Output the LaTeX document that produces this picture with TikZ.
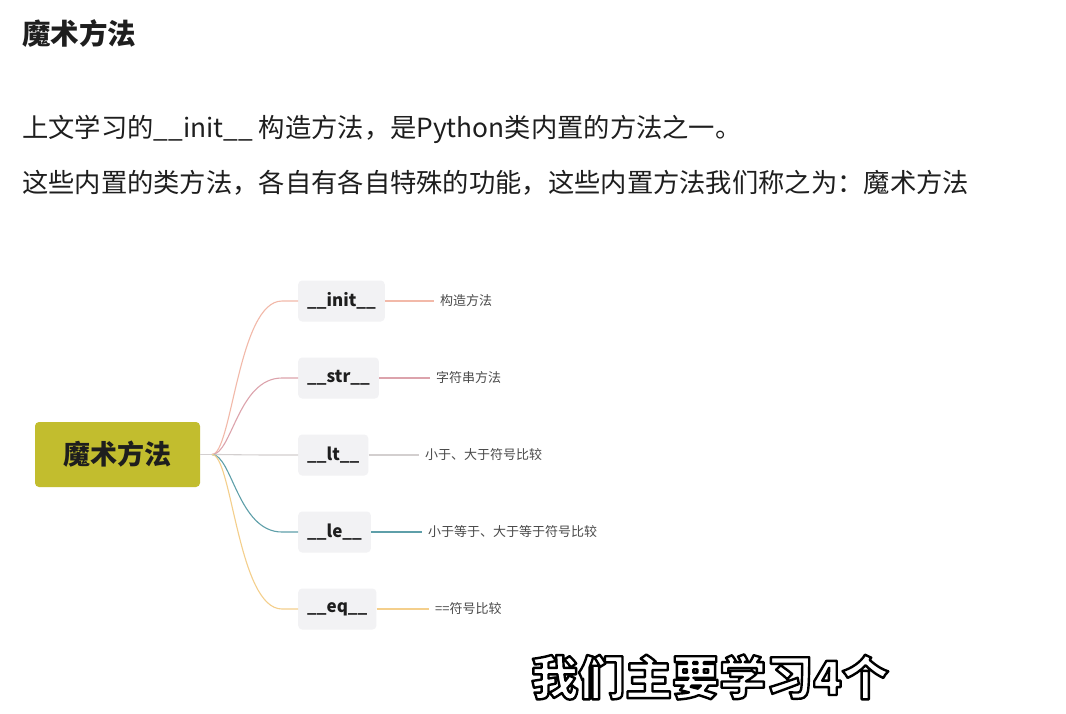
\documentclass[tikz,border=0pt]{standalone}
\usepackage{fontspec}
\setmainfont{Noto Sans CJK SC}
\usepackage{tikz}
\usetikzlibrary{positioning}
\definecolor{ink}{HTML}{1E1E1E}
\definecolor{muted}{HTML}{4A4A4A}
\definecolor{rootfill}{HTML}{C2BD2E}
\definecolor{boxfill}{HTML}{F2F2F4}
\definecolor{cinit}{HTML}{F2B9A9}
\definecolor{cstr}{HTML}{DCA3AC}
\definecolor{clt}{HTML}{D3CFCF}
\definecolor{cle}{HTML}{5E9FA9}
\definecolor{ceq}{HTML}{F4CF8C}
% white letters with a black rim (text render mode 2: fill, then stroke)
\newcommand{\rimtext}[1]{\special{pdf:literal direct 1 j 2.4 w 0 0 0 RG 2 Tr}#1\special{pdf:literal direct 0 Tr}}
\tikzset{
  ttl/.style  ={font=\fontsize{28.5}{32}\selectfont\bfseries, text=ink, inner sep=0pt, anchor=west},
  txt/.style  ={font=\fontsize{26.3}{30}\selectfont, text=ink, inner sep=0pt, anchor=west},
  root/.style ={fill=rootfill, rounded corners=4pt, minimum width=165pt, minimum height=65pt,
                font=\fontsize{27}{30}\selectfont\bfseries, text=ink, inner sep=0pt},
  meth/.style ={fill=boxfill, rounded corners=4pt, minimum height=41pt, inner xsep=9pt,
                font=\fontsize{17}{20}\selectfont\bfseries, text=ink, anchor=west},
  note/.style ={font=\fontsize{13}{16}\selectfont, text=muted, inner xsep=6pt, inner ysep=0pt,
                anchor=west},
  br/.style   ={line width=1.1pt},
  sub/.style  ={font=\fontsize{47}{50}\selectfont\bfseries, text=white, inner sep=0pt},
}
\begin{document}
\begin{tikzpicture}[x=1pt,y=-1pt]
  \useasboundingbox[fill=white] (0,0) rectangle (1066,713);

  % heading and the two lines of text
  \node[ttl] (title) at (22,34)  {魔术方法};
  \node[txt] (lineA) at (22,129) {上文学习的\_\_init\_\_ 构造方法，是Python类内置的方法之一。};
  \node[txt] (lineB) at (22,183) {这些内置的类方法，各自有各自特殊的功能，这些内置方法我们称之为：魔术方法};

  % ---------------- mind map -------------------------------------------------
  \node[root] (mm) at (117.5,454.5) {魔术方法};
  \coordinate (hub) at (212,454.5);
  \draw[br,draw=clt] (mm.east) -- (hub);

  \foreach \n/\t/\y/\c/\nx/\d in {
      init/\_\_init\_\_/301/cinit/434/构造方法,
      str/\_\_str\_\_/378/cstr/430/字符串方法,
      lt/\_\_lt\_\_/455/clt/419/小于、大于符号比较,
      le/\_\_le\_\_/532/cle/422/小于等于、大于等于符号比较,
      eq/\_\_eq\_\_/609/ceq/429/==符号比较} {
    \node[meth] (\n) at (298,\y) {\t};
    \node[note] (\n-d) at (\nx,\y) {\d};
    \draw[br,draw=\c] (hub) .. controls (232,454.5) and (238,\y) .. (282,\y) -- (\n.west);
    \draw[br,draw=\c] (\n.east) -- (\n-d.west);
  }

  % ---------------- subtitle -------------------------------------------------
  \node[sub] (cap) at (710,677) {\rimtext{我们主要学习4个}};
\end{tikzpicture}
\end{document}
